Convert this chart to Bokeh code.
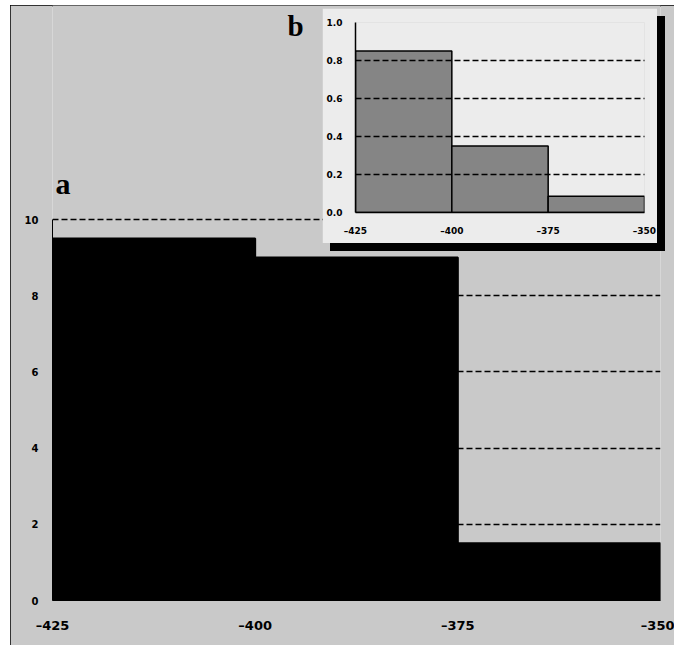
from bokeh.plotting import figure
from bokeh.models import Range1d, FixedTicker, Label, PrintfTickFormatter, GridBox
from bokeh.embed import file_html
from bokeh.resources import INLINE

# ---- data ----
bin_edges = [-425, -400, -375, -350]
main_counts = [9.5, 9.0, 1.5]
inset_values = [0.85, 0.35, 0.085]
x_tick_labels = ["\u2013425", "\u2013400", "\u2013375", "\u2013350"]
main_y_ticks = [0, 2, 4, 6, 8, 10]
inset_y_ticks = [0.0, 0.2, 0.4, 0.6, 0.8, 1.0]

MAIN_BG = "#c9c9c9"
INSET_BG = "#ececec"
TICK_FONT = "DejaVu Sans"

# ---- main panel (a) ----
main = figure(width=664, height=640, output_backend="svg", toolbar_location=None,
              title=None, frame_align=False,
              x_range=Range1d(bin_edges[0], bin_edges[-1]), y_range=Range1d(0, 15.617),
              min_border_left=42, min_border_right=14, min_border_top=0, min_border_bottom=45,
              background_fill_color=MAIN_BG, border_fill_color=MAIN_BG,
              margin=(5, 0, 0, 10),
              styles={"outline": "2px solid #000", "outline-offset": "-2px"})
main.outline_line_color = None
main.quad(left=bin_edges[:-1], right=bin_edges[1:], top=main_counts, bottom=0,
          fill_color="black", line_color="black", line_width=2)

main.xaxis.ticker = FixedTicker(ticks=bin_edges)
main.xaxis.major_label_overrides = {t: l for t, l in zip(bin_edges, x_tick_labels)}
main.yaxis.ticker = FixedTicker(ticks=main_y_ticks)
main.yaxis.bounds = (0, 10)
for ax in (main.xaxis, main.yaxis):
    ax.major_tick_line_color = None
    ax.minor_tick_line_color = None
    ax.major_tick_out = 0
    ax.major_tick_in = 0
    ax.minor_tick_out = 0
    ax.major_label_text_font = TICK_FONT
    ax.major_label_text_font_style = "bold"
    ax.major_label_text_color = "black"
    ax.axis_line_color = "black"
main.xaxis.major_label_text_font_size = "13px"
main.yaxis.major_label_text_font_size = "10px"
main.xaxis.major_label_standoff = 17
main.yaxis.major_label_standoff = 14
main.xgrid.visible = False
main.ygrid.ticker = FixedTicker(ticks=main_y_ticks[1:])
main.ygrid.grid_line_color = "black"
main.ygrid.grid_line_dash = "6 3"
main.ygrid.grid_line_width = 1.5

main.add_layout(Label(x=bin_edges[0], y=10, x_offset=3, y_offset=36, text="a",
                      text_color="black",
                      text_font="Liberation Serif", text_font_style="bold",
                      text_font_size="30px", text_baseline="alphabetic"))
main.add_layout(Label(x=-396, y=15.09, text="b", text_color="black",
                      text_font="Liberation Serif", text_font_style="bold",
                      text_font_size="29px", text_baseline="alphabetic"))

# ---- inset panel (b) ----
inset = figure(width=335, height=235, output_backend="svg", toolbar_location=None,
               title=None, frame_align=False,
               x_range=Range1d(bin_edges[0], bin_edges[-1]), y_range=Range1d(0, 1.0),
               min_border_left=33, min_border_right=13, min_border_top=14, min_border_bottom=31,
               background_fill_color=INSET_BG, border_fill_color=INSET_BG,
               margin=(8, 0, 0, 322),
               styles={"box-shadow": "8px 8px 0px #000"})
inset.outline_line_color = None
inset.quad(left=bin_edges[:-1], right=bin_edges[1:], top=inset_values, bottom=0,
           fill_color="#858585", line_color="black", line_width=1.5)
inset.xaxis.ticker = FixedTicker(ticks=bin_edges)
inset.xaxis.major_label_overrides = {t: l for t, l in zip(bin_edges, x_tick_labels)}
inset.yaxis.ticker = FixedTicker(ticks=inset_y_ticks)
inset.yaxis.formatter = PrintfTickFormatter(format="%.1f")
for ax in (inset.xaxis, inset.yaxis):
    ax.major_tick_line_color = None
    ax.minor_tick_line_color = None
    ax.major_tick_out = 0
    ax.major_tick_in = 0
    ax.minor_tick_out = 0
    ax.major_label_text_font = TICK_FONT
    ax.major_label_text_font_style = "bold"
    ax.major_label_text_font_size = "9px"
    ax.major_label_text_color = "black"
    ax.axis_line_color = "black"
    ax.axis_line_width = 1.5
inset.xaxis.major_label_standoff = 13
inset.yaxis.major_label_standoff = 13
inset.xgrid.visible = False
inset.ygrid.ticker = FixedTicker(ticks=inset_y_ticks[1:])
inset.ygrid.grid_line_color = "black"
inset.ygrid.grid_line_dash = "6 3"
inset.ygrid.grid_line_width = 1.5
inset.ygrid.level = "overlay"

layout = GridBox(children=[(main, 0, 0), (inset, 0, 0)])
open("out.html", "w").write(file_html(layout, INLINE))
